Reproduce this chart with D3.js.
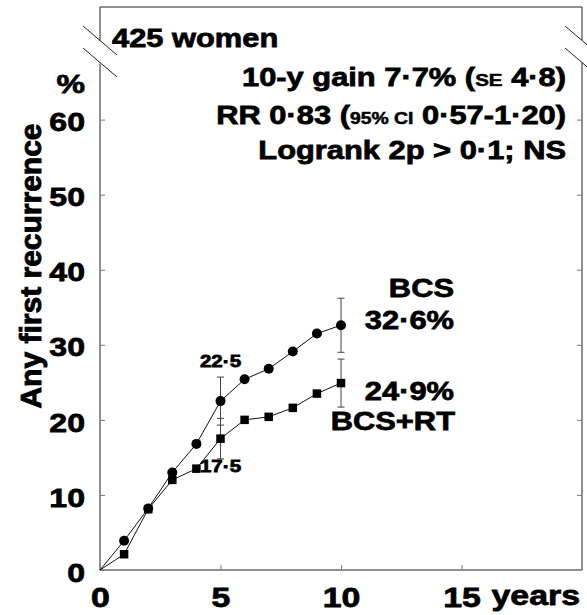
<!DOCTYPE html>
<html>
<head>
<meta charset="utf-8">
<script src="https://cdn.jsdelivr.net/npm/d3@7"></script>
<style>
  html, body { margin: 0; padding: 0; background: #fff; }
  svg { display: block; }
  text { font-family: "Liberation Sans", Arial, Helvetica, sans-serif; font-weight: bold; fill: #000; stroke: #000; stroke-width: 0.75px; }
</style>
</head>
<body>
<svg id="chart" width="587" height="615"></svg>
<script>
// ---- data ----
const years = [0, 1, 2, 3, 4, 5, 6, 7, 8, 9, 10];
const bcs   = [0, 3.9, 8.2, 13.0, 16.8, 22.5, 25.4, 26.8, 29.1, 31.5, 32.6];
const bcsRT = [0, 2.1, 8.1, 12.0, 13.5, 17.5, 20.0, 20.4, 21.6, 23.5, 24.9];
const errYears = [5, 10];
const bcsSE   = [3.2, 3.6];
const bcsRTSE = [2.7, 3.2];
const xTicks = [0, 5, 10, 15];
const yTicks = [0, 10, 20, 30, 40, 50, 60];

const SX = 1.21; // horizontal stretch of lettering
const svg = d3.select("#chart");
const x = d3.scaleLinear().domain([0, 20]).range([100, 582]);
const y = d3.scaleLinear().domain([0, 75]).range([570, 7]);

function stretch(sel) {
  sel.each(function () {
    const t = d3.select(this);
    const tx = +t.attr("x") || 0, ty = +t.attr("y") || 0;
    t.attr("x", 0).attr("y", 0).attr("transform", `translate(${tx},${ty}) scale(${SX},1)`);
  });
}
function label(x0, y0, parts, size, anchor) {
  const t = svg.append("text")
    .attr("transform", `translate(${x0},${y0}) scale(${SX},1)`)
    .attr("text-anchor", anchor || "start")
    .style("font-size", size + "px");
  parts.forEach(p => {
    if (typeof p === "string") t.append("tspan").text(p);
    else t.append("tspan").style("font-size", p.size + "px").style("stroke-width", "0.5px").text(p.t);
  });
  return t;
}

// ---- frame with breaks ----
const X0 = x.range()[0], X1 = x.range()[1], Y0 = y.range()[0], Y1 = y.range()[1];
const frame = svg.append("g").attr("stroke", "#222").attr("stroke-width", 1).attr("fill", "none");
frame.append("path").attr("d", `M${X0},${Y0}V63.5M${X0},41V${Y1}H${X1}V40M${X1},62.5V${Y0}H${X0}`);
[X0, X1].forEach(ax => {
  frame.append("line").attr("x1", ax - 17).attr("y1", 26).attr("x2", ax + 17).attr("y2", 55);
  frame.append("line").attr("x1", ax - 17).attr("y1", 48).attr("x2", ax + 17).attr("y2", 77);
});

// ---- axes ----
const gx = svg.append("g").attr("transform", `translate(0,${Y0})`)
  .call(d3.axisBottom(x).tickValues(xTicks).tickSizeInner(-5).tickSizeOuter(0).tickPadding(17));
gx.select(".domain").remove();
gx.selectAll("line").attr("stroke", "#777");
gx.selectAll("text").style("font-size", "28px").style("font-family", null).attr("fill", "#000").call(stretch);

const gy = svg.append("g").attr("transform", `translate(${X0},0)`)
  .call(d3.axisLeft(y).tickValues(yTicks).tickSizeInner(-5).tickSizeOuter(0).tickPadding(15));
gy.select(".domain").remove();
gy.selectAll("line").attr("stroke", "#777");
gy.selectAll("text").style("font-size", "26.5px").style("font-family", null).attr("fill", "#000").attr("dy", "0.42em").call(stretch);

const gyr = svg.append("g").attr("transform", `translate(${X1},0)`)
  .call(d3.axisRight(y).tickValues(yTicks.slice(1)).tickSizeInner(-5).tickSizeOuter(0).tickFormat(""));
gyr.select(".domain").remove();
gyr.selectAll("line").attr("stroke", "#777");

label(85, 93, ["%"], 26.5, "end");
label(580, 605, ["years"], 28, "end");
svg.append("text")
  .attr("transform", `translate(41,266) rotate(-90)`)
  .attr("text-anchor", "middle")
  .style("font-size", "30px")
  .style("stroke-width", "0.9px")
  .text("Any first recurrence");

// ---- header texts ----
label(112, 47, ["425 women"], 25.5, "start");
label(566, 86, ["10-y gain 7·7% (", {t: "SE", size: 17}, " 4·8)"], 25.5, "end");
label(566, 124, ["RR 0·83 (", {t: "95% CI", size: 16}, " 0·57-1·20)"], 25.5, "end");
label(566, 159, ["Logrank 2p > 0·1; NS"], 25.5, "end");

// ---- error bars ----
const eb = svg.append("g").attr("stroke", "#444").attr("stroke-width", 1);
function errBar(yr, v, se) {
  const cx = x(yr);
  eb.append("line").attr("x1", cx).attr("x2", cx).attr("y1", y(v - se)).attr("y2", y(v + se));
  [v - se, v + se].forEach(e =>
    eb.append("line").attr("x1", cx - 3.5).attr("x2", cx + 3.5).attr("y1", y(e)).attr("y2", y(e)));
}
errYears.forEach((yr, i) => {
  const k = years.indexOf(yr);
  errBar(yr, bcs[k], bcsSE[i]);
  errBar(yr, bcsRT[k], bcsRTSE[i]);
});

// ---- lines ----
const line = d3.line().x((d, i) => x(years[i])).y(d => y(d));
svg.append("path").datum(bcs).attr("d", line).attr("fill", "none").attr("stroke", "#111").attr("stroke-width", 1);
svg.append("path").datum(bcsRT).attr("d", line).attr("fill", "none").attr("stroke", "#111").attr("stroke-width", 1);

// ---- markers ----
svg.append("g").selectAll("circle").data(bcs.slice(1)).join("circle")
  .attr("cx", (d, i) => x(years[i + 1])).attr("cy", d => y(d)).attr("r", 5).attr("fill", "#000");
const sq = 8.5;
svg.append("g").selectAll("rect").data(bcsRT.slice(1)).join("rect")
  .attr("x", (d, i) => x(years[i + 1]) - sq / 2).attr("y", d => y(d) - sq / 2)
  .attr("width", sq).attr("height", sq).attr("fill", "#000");

// ---- value labels ----
const fmt = v => d3.format(".1f")(v).replace(".", "·");
const k5 = years.indexOf(5), k10 = years.indexOf(10);
label(x(5), 366.5, [fmt(bcs[k5])], 17, "middle");
label(x(5), 471.5, [fmt(bcsRT[k5])], 17, "middle");
label(454, 297, ["BCS"], 25.5, "end");
label(454, 328.5, [fmt(bcs[k10]) + "%"], 25.5, "end");
label(454, 400, [fmt(bcsRT[k10]) + "%"], 25.5, "end");
label(455, 430, ["BCS+RT"], 25.5, "end");
</script>
</body>
</html>
